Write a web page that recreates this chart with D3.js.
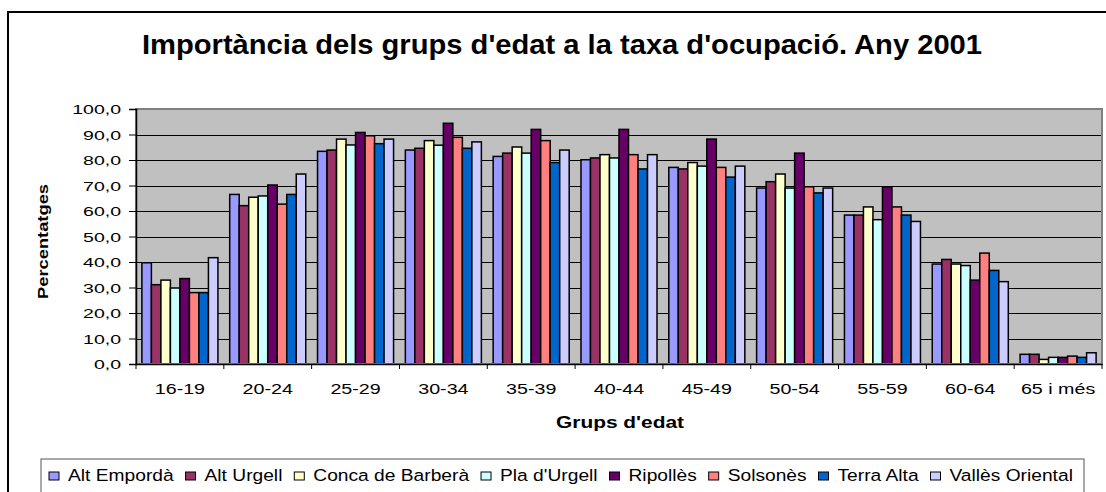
<!DOCTYPE html>
<html>
<head>
<meta charset="utf-8">
<script src="https://cdn.jsdelivr.net/npm/d3@7"></script>
<style>
  body { margin: 0; background: #fff; }
  svg { display: block; }
  text { font-family: "Liberation Sans", Arial, sans-serif; fill: #000; }
</style>
</head>
<body>
<svg id="chart" width="1106" height="492"></svg>
<script>
// age groups (x categories)
const groups = ["16-19", "20-24", "25-29", "30-34", "35-39", "40-44", "45-49", "50-54", "55-59", "60-64", "65 i més"];
const comarques = ["Alt Empordà", "Alt Urgell", "Conca de Barberà", "Pla d'Urgell", "Ripollès", "Solsonès", "Terra Alta", "Vallès Oriental"];

// one array per comarca, % by age group
const altEmporda     = [39.7, 66.5, 83.4, 83.9, 81.4, 80.1, 77.1, 69.0, 58.4, 39.2, 3.8];
const altUrgell      = [31.1, 62.1, 83.9, 84.6, 82.7, 80.8, 76.5, 71.5, 58.4, 41.0, 3.8];
const concaBarbera   = [32.9, 65.4, 88.2, 87.6, 85.1, 82.1, 79.0, 74.5, 61.6, 39.2, 1.8];
const plaUrgell      = [29.8, 65.9, 85.9, 85.8, 82.7, 80.8, 77.6, 69.0, 56.6, 38.6, 2.6];
const ripolles       = [33.5, 70.2, 90.8, 94.4, 92.0, 92.0, 88.2, 82.7, 69.5, 32.9, 2.6];
const solsones       = [28.0, 62.7, 89.5, 88.9, 87.6, 82.1, 77.1, 69.5, 61.6, 43.5, 3.1];
const terraAlta      = [28.0, 66.5, 86.4, 84.6, 79.0, 76.5, 73.3, 67.1, 58.4, 36.7, 2.6];
const vallesOriental = [41.7, 74.5, 88.2, 87.1, 83.9, 82.1, 77.6, 69.0, 55.9, 32.3, 4.4];

const yTicks = [0, 10, 20, 30, 40, 50, 60, 70, 80, 90, 100];

const seriesValues = [altEmporda, altUrgell, concaBarbera, plaUrgell, ripolles, solsones, terraAlta, vallesOriental];
const colors = ["#9999FF", "#993366", "#FFFFCC", "#CCFFFF", "#660066", "#FF8080", "#0066CC", "#CCCCFF"];

const svg = d3.select("#chart");

// plot area box
const plot = {left: 136, right: 1102, top: 109, bottom: 364};

// outer chart frame (runs off the right/bottom of the picture)
svg.append("rect")
  .attr("x", 8).attr("y", 12)
  .attr("width", 1110).attr("height", 500)
  .attr("fill", "#fff")
  .attr("stroke", "#000")
  .attr("stroke-width", 2);

const x0 = d3.scaleBand()
  .domain(groups)
  .range([plot.left, plot.right])
  .padding(0);

const x1 = d3.scaleBand()
  .domain(d3.range(comarques.length))
  .range([0, x0.bandwidth()])
  .paddingInner(0)
  .paddingOuter(0.62);

const y = d3.scaleLinear()
  .domain([0, 100])
  .range([plot.bottom, plot.top]);

// background
svg.append("rect")
  .attr("x", plot.left).attr("y", plot.top)
  .attr("width", plot.right - plot.left)
  .attr("height", plot.bottom - plot.top)
  .attr("fill", "#C0C0C0");

// gridlines
svg.append("g")
  .selectAll("line")
  .data(yTicks.slice(1))
  .enter().append("line")
  .attr("x1", plot.left).attr("x2", plot.right)
  .attr("y1", d => Math.round(y(d)) + 0.5)
  .attr("y2", d => Math.round(y(d)) + 0.5)
  .attr("stroke", "#000")
  .attr("stroke-width", 1);

// bars
const barGroups = svg.append("g")
  .selectAll("g")
  .data(groups)
  .enter().append("g")
  .attr("transform", d => "translate(" + x0(d) + ",0)");

barGroups.selectAll("rect")
  .data((g, gi) => seriesValues.map((vals, si) => ({si: si, value: vals[gi]})))
  .enter().append("rect")
  .attr("x", d => x1(d.si))
  .attr("y", d => y(d.value))
  .attr("width", x1.bandwidth())
  .attr("height", d => y(0) - y(d.value))
  .attr("fill", d => colors[d.si])
  .attr("stroke", "#000")
  .attr("stroke-width", 1.5);

// plot border
svg.append("rect")
  .attr("x", plot.left).attr("y", plot.top)
  .attr("width", plot.right - plot.left)
  .attr("height", plot.bottom - plot.top)
  .attr("fill", "none")
  .attr("stroke", "#808080")
  .attr("stroke-width", 2);

// y axis
const yAxis = d3.axisLeft(y)
  .tickValues(yTicks)
  .tickSize(7)
  .tickFormat(d => d3.format(".1f")(d).replace(".", ","));

const gy = svg.append("g")
  .attr("transform", "translate(" + plot.left + ",0)")
  .call(yAxis);
gy.select(".domain").attr("stroke", "#000").attr("stroke-width", 1.5);
gy.selectAll(".tick line").attr("stroke", "#000");
gy.selectAll(".tick text")
  .attr("x", 0).attr("dy", "0.36em")
  .attr("font-size", 13)
  .attr("text-anchor", "end")
  .attr("transform", "translate(-15,0) scale(1.5,1)");

// x axis
const xAxis = d3.axisBottom(x0).tickSize(0).tickPadding(0);
const gx = svg.append("g")
  .attr("transform", "translate(0," + plot.bottom + ")")
  .call(xAxis);
gx.select(".domain").attr("stroke", "#000").attr("stroke-width", 1.5);
gx.selectAll(".tick text")
  .attr("y", 0).attr("dy", 0)
  .attr("font-size", 15.5)
  .attr("text-anchor", "middle")
  .attr("transform", "translate(0,30) scale(1.27,1)");

// group separator ticks
svg.append("g")
  .selectAll("line")
  .data(groups.concat(["end"]))
  .enter().append("line")
  .attr("x1", (d, i) => i < groups.length ? x0(d) : plot.right)
  .attr("x2", (d, i) => i < groups.length ? x0(d) : plot.right)
  .attr("y1", plot.bottom)
  .attr("y2", plot.bottom + 5)
  .attr("stroke", "#000");

// title
svg.append("text")
  .attr("x", 142).attr("y", 54)
  .attr("font-size", 27)
  .attr("font-weight", "bold")
  .attr("textLength", 840)
  .attr("lengthAdjust", "spacingAndGlyphs")
  .text("Importància dels grups d'edat a la taxa d'ocupació. Any 2001");

// y axis title
svg.append("text")
  .attr("transform", "translate(48,299) rotate(-90)")
  .attr("font-size", 15)
  .attr("font-weight", "bold")
  .attr("textLength", 115)
  .attr("lengthAdjust", "spacingAndGlyphs")
  .text("Percentatges");

// x axis title
svg.append("text")
  .attr("x", 556).attr("y", 428)
  .attr("font-size", 16)
  .attr("font-weight", "bold")
  .attr("textLength", 128)
  .attr("lengthAdjust", "spacingAndGlyphs")
  .text("Grups d'edat");

// legend
svg.append("rect")
  .attr("x", 41).attr("y", 459)
  .attr("width", 1043).attr("height", 60)
  .attr("fill", "#fff")
  .attr("stroke", "#555")
  .attr("stroke-width", 1);

const legendSx = 1.13;
const legend = svg.append("g");
const items = legend.selectAll("g")
  .data(comarques)
  .enter().append("g");

items.append("text")
  .attr("font-size", 17)
  .attr("x", 0).attr("y", 0)
  .text(d => d);

// measure, then spread items so the last label ends where the reference does
const widths = [];
items.select("text").each(function() { widths.push(this.getComputedTextLength() * legendSx); });
const startX = 49, endX = 1073, markW = 10, markGap = 9;
const used = d3.sum(widths) + comarques.length * (markW + markGap);
const itemGap = (endX - startX - used) / (comarques.length - 1);

let cx = startX;
items.each(function(d, i) {
  const g = d3.select(this);
  g.append("rect")
    .attr("x", cx).attr("y", 472)
    .attr("width", markW).attr("height", 8)
    .attr("fill", colors[i])
    .attr("stroke", "#000")
    .attr("stroke-width", 1);
  g.select("text")
    .attr("transform", "translate(" + (cx + markW + markGap) + ",481) scale(" + legendSx + ",1)");
  cx += markW + markGap + widths[i] + itemGap;
});
</script>
</body>
</html>
